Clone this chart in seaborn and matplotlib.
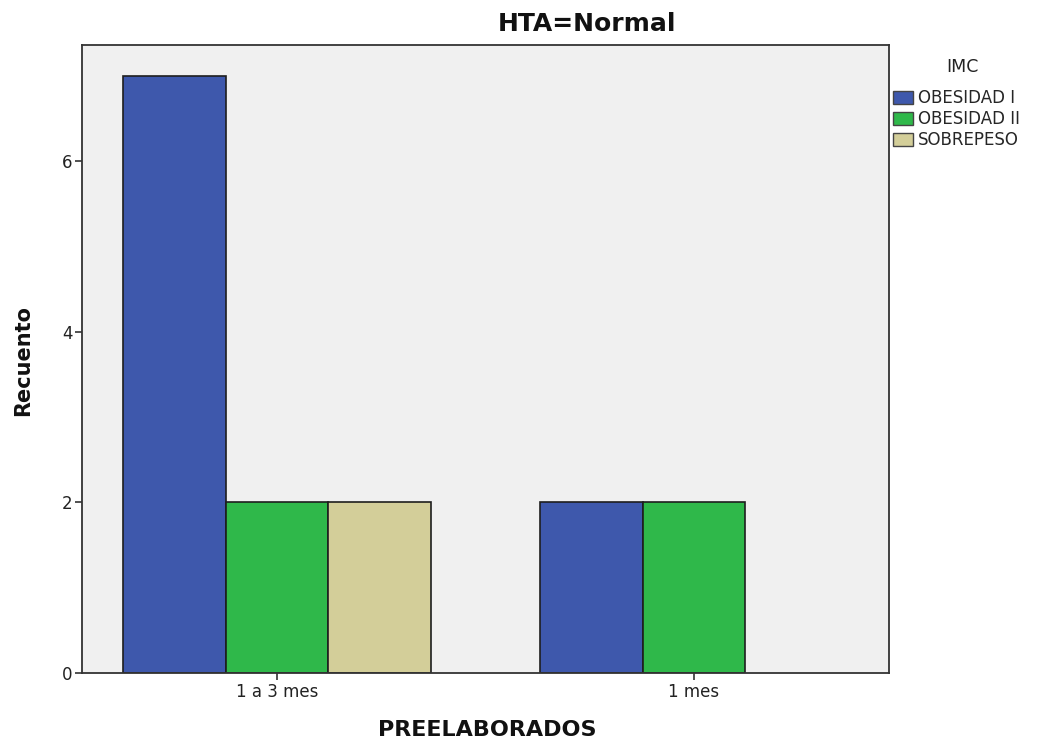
import matplotlib
matplotlib.use("Agg")
import matplotlib.pyplot as plt
import seaborn as sns
import pandas as pd
from matplotlib.patches import Patch

# Counts of IMC class by PREELABORADOS group (HTA = Normal)
preelaborados = ["1 a 3 mes", "1 a 3 mes", "1 a 3 mes", "1 mes", "1 mes"]
imc = ["OBESIDAD I", "OBESIDAD II", "SOBREPESO", "OBESIDAD I", "OBESIDAD II"]
recuento = [7, 2, 2, 2, 2]

group_order = ["1 a 3 mes", "1 mes"]
imc_order = ["OBESIDAD I", "OBESIDAD II", "SOBREPESO"]
imc_colors = ["#3e58ac", "#2fb84a", "#d3ce99"]
y_ticks = [0, 2, 4, 6]

df = pd.DataFrame({"PREELABORADOS": preelaborados, "IMC": imc, "Recuento": recuento})

sns.set_style("white")
plt.rcParams["font.family"] = ["DejaVu Sans"]

fig = plt.figure(figsize=(10.41, 7.42), dpi=100)
ax = fig.add_axes([82 / 1041, 1 - 673 / 742, (889 - 82) / 1041, (673 - 45) / 742])
ax.set_facecolor("#f0f0f0")

sns.barplot(
    data=df, x="PREELABORADOS", y="Recuento", hue="IMC",
    order=group_order, hue_order=imc_order, palette=imc_colors,
    saturation=1, width=0.74, edgecolor="#1e1e1e", linewidth=1.2,
    errorbar=None, legend=False, ax=ax,
)

ax.set_xlim(-0.468, 1.468)
ax.set_ylim(0, 7.36)
ax.set_yticks(y_ticks)
ax.set_yticklabels([str(t) for t in y_ticks])

for side in ["left", "right", "top", "bottom"]:
    ax.spines[side].set_visible(True)
    ax.spines[side].set_color("#333333")
    ax.spines[side].set_linewidth(1.3)

ax.tick_params(axis="both", which="major", direction="out", length=5, width=1.2,
               color="#333333", labelsize=12, labelcolor="#222222", pad=2,
               left=True, bottom=True)

ax.set_xlabel("")
ax.set_ylabel("")
fig.text(487 / 1041, 1 - 729.5 / 742, "PREELABORADOS", ha="center", va="center",
         fontsize=16, fontweight="bold", color="#111111")
fig.text(23 / 1041, 1 - 360 / 742, "Recuento", ha="center", va="center",
         rotation=90, fontsize=15, fontweight="bold", color="#111111")
fig.text(587 / 1041, 1 - 24 / 742, "HTA=Normal", ha="center", va="center",
         fontsize=18, fontweight="bold", color="#111111")

# Legend: title placed separately to leave the gap above the entries
fig.text(962 / 1041, 1 - 67 / 742, "IMC", ha="center", va="center",
         fontsize=12.5, color="#222222")
handles = [Patch(facecolor=c, edgecolor="#444444", linewidth=1.0) for c in imc_colors]
leg = fig.legend(
    handles, imc_order, loc="upper left",
    bbox_to_anchor=(890 / 1041, 1 - 86 / 742), frameon=False,
    fontsize=12, handlelength=1.15, handleheight=0.85,
    handletextpad=0.35, labelspacing=0.18, borderaxespad=0, borderpad=0.2,
)

fig.savefig("out.png", dpi=100)
